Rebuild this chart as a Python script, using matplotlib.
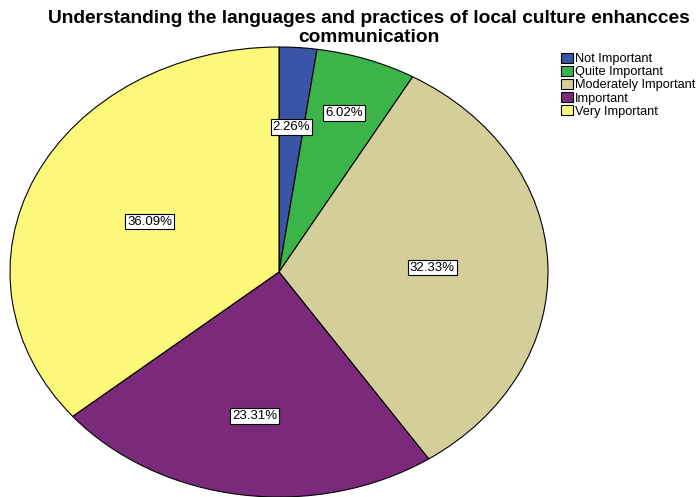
import matplotlib
matplotlib.use("Agg")
import matplotlib.pyplot as plt
from matplotlib.patches import Patch
import numpy as np

categories = ["Not Important", "Quite Important", "Moderately Important",
              "Important", "Very Important"]
percents = [2.26, 6.02, 32.33, 23.31, 36.09]
colors = ["#3A55A8", "#3BB54A", "#D4CE98", "#7B297A", "#FBF87A"]
# radial placement of each percentage box (fraction of radius)
label_dist = [0.645, 0.745, 0.57, 0.645, 0.53]

plt.rcParams["font.family"] = ["Liberation Sans", "DejaVu Sans"]

W, H = 698, 497
fig = plt.figure(figsize=(W / 100, H / 100), dpi=100)

# elliptical pie: axes box spans the ellipse in pixel terms
cx, cy, rx, ry = 279, 272, 269, 225
ax = fig.add_axes([(cx - rx) / W, (H - cy - ry) / H, 2 * rx / W, 2 * ry / H])
wedges, _ = ax.pie(percents, colors=colors, startangle=90, counterclock=False,
                   radius=1.0, wedgeprops=dict(edgecolor="black", linewidth=0.8))
ax.set_aspect("auto")
ax.set_xlim(-1, 1)
ax.set_ylim(-1, 1)
ax.axis("off")

for w, p, d in zip(wedges, percents, label_dist):
    mid = np.deg2rad((w.theta1 + w.theta2) / 2)
    ax.text(d * np.cos(mid), d * np.sin(mid), f"{p:.2f}%",
            ha="center", va="center", fontsize=9.5, color="black",
            bbox=dict(boxstyle="square,pad=0.15", facecolor="white",
                      edgecolor="black", linewidth=0.8))

fig.text(369 / W, 1 - 28 / H,
         "Understanding the languages and practices of local culture enhancces\ncommunication",
         ha="center", va="center", fontsize=13.8, fontweight="bold", linespacing=1.15)

handles = [Patch(facecolor=c, edgecolor="black", linewidth=0.8) for c in colors]
fig.legend(handles, categories, loc="upper left",
           bbox_to_anchor=(558 / W, 1 - 50 / H), frameon=False, fontsize=9.2,
           handlelength=0.95, handleheight=0.85, handletextpad=0.2,
           labelspacing=0.05, borderpad=0.2, borderaxespad=0)

fig.savefig("out.png", dpi=100)
